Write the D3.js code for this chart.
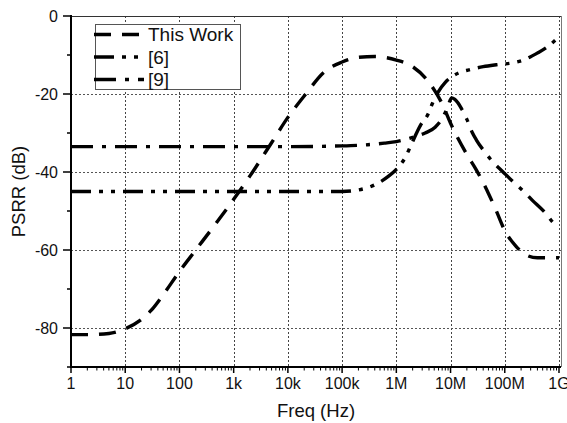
<!DOCTYPE html>
<html>
<head>
<meta charset="utf-8">
<script src="https://cdn.jsdelivr.net/npm/d3@7/dist/d3.min.js"></script>
<style>
  html, body { margin: 0; padding: 0; background: #fff; }
  svg { display: block; font-family: "Liberation Sans", Arial, sans-serif; }
</style>
</head>
<body>
<svg id="chart" width="567" height="423"></svg>
<script>
// ---- data ----
const seriesNames = ["This Work", "[6]", "[9]"];
const thisWorkFreq = [1, 2, 5, 10, 20, 30, 50, 100, 200, 500, 1e3, 2e3, 5e3, 1e4, 2e4, 5e4, 1e5, 2e5, 4e5, 1e6, 2e6, 4e6, 7e6, 1e7, 2e7, 3e7, 5e7, 7e7, 1e8, 1.6e8, 2.5e8, 4e8, 1e9];
const thisWorkDb   = [-81.7, -81.7, -81.4, -80.2, -77.8, -75.5, -71.5, -65.5, -60, -52.7, -47, -41, -32.5, -26, -20.5, -14, -11.8, -10.6, -10.4, -11.3, -13, -17, -22.5, -27.5, -35.5, -39.5, -45.5, -50, -55, -59, -61.3, -62, -62];
const ref6Freq = [1, 1e4, 1e5, 2e5, 4e5, 7e5, 1e6, 1.5e6, 1.8e6, 2.8e6, 3.9e6, 4.6e6, 5.9e6, 8e6, 1e7, 1.4e7, 2.2e7, 4e7, 7e7, 1.4e8, 2.2e8, 4e8, 6e8, 1e9];
const ref6Db   = [-45, -45, -45, -44.6, -43.3, -41.2, -39.3, -36, -33.6, -28, -25, -22.5, -19.5, -17, -15.8, -14.6, -13.8, -13, -12.5, -12, -11.3, -9.5, -8, -5.3];
const ref9Freq = [1, 1e4, 1e5, 3e5, 6e5, 1e6, 2e6, 3.4e6, 5.2e6, 7e6, 8.7e6, 1.05e7, 1.2e7, 1.6e7, 2e7, 2.5e7, 3e7, 4.3e7, 6e7, 9e7, 1.5e8, 2.2e8, 3.2e8, 5.6e8, 7.8e8, 1e9];
const ref9Db   = [-33.5, -33.5, -33.3, -33, -32.6, -32.2, -31.1, -30, -28.5, -26.3, -23.6, -21, -21.4, -23.8, -26.5, -29.8, -31.8, -34.9, -37.4, -39.8, -42.8, -44.9, -47.2, -50.5, -53, -54.3];
const xTickValues = [1, 10, 100, 1e3, 1e4, 1e5, 1e6, 1e7, 1e8, 1e9];
const xTickLabels = ["1", "10", "100", "1k", "10k", "100k", "1M", "10M", "100M", "1G"];
const yTickValues = [0, -20, -40, -60, -80];
const yMinorValues = [-10, -30, -50, -70, -90];
const xTitle = "Freq (Hz)";
const yTitle = "PSRR (dB)";

(function () {
// ---- layout ----
const pL = 71, pR = 561, pT = 16, pB = 367;
const svg = d3.select("#chart");
const x = d3.scaleLog().domain([1, Math.pow(10, 9.037)]).range([pL, pR]);
const y = d3.scaleLinear().domain([-90, 0]).range([pB, pT]);

// grid
const gGrid = svg.append("g");
gGrid.selectAll("line.vg").data(xTickValues.slice(1)).enter().append("line")
  .attr("x1", d => Math.round(x(d)) + 0.5).attr("x2", d => Math.round(x(d)) + 0.5)
  .attr("y1", pT).attr("y2", pB)
  .attr("stroke", "#444").attr("stroke-width", 1).attr("stroke-dasharray", "2,2");
gGrid.selectAll("line.hg").data(yTickValues.slice(1)).enter().append("line")
  .attr("y1", d => Math.round(y(d)) + 0.5).attr("y2", d => Math.round(y(d)) + 0.5)
  .attr("x1", pL).attr("x2", pR)
  .attr("stroke", "#555").attr("stroke-width", 1).attr("stroke-dasharray", "2,2");

// frame (top/right)
svg.append("line").attr("x1", pL).attr("x2", pR).attr("y1", pT + 0.5).attr("y2", pT + 0.5)
  .attr("stroke", "#333").attr("stroke-width", 1);
svg.append("line").attr("x1", pR + 0.5).attr("x2", pR + 0.5).attr("y1", pT).attr("y2", pB)
  .attr("stroke", "#777").attr("stroke-width", 1);

// curves
const line = d3.line().x(d => x(d[0])).y(d => y(d[1])).curve(d3.curveMonotoneX);
const zip = (a, b) => a.map((v, i) => [v, b[i]]);
const series = [
  { name: seriesNames[0], pts: zip(thisWorkFreq, thisWorkDb), dash: "17,11" },
  { name: seriesNames[1], pts: zip(ref6Freq, ref6Db), dash: "20,8,4,8,4,8" },
  { name: seriesNames[2], pts: zip(ref9Freq, ref9Db), dash: "22,9,4,9" }
];
svg.append("defs").append("clipPath").attr("id", "clip")
  .append("rect").attr("x", pL).attr("y", pT).attr("width", pR - pL).attr("height", pB - pT);
svg.append("g").attr("clip-path", "url(#clip)").selectAll("path").data(series).enter().append("path")
  .attr("d", d => line(d.pts))
  .attr("fill", "none").attr("stroke", "#000").attr("stroke-width", 3.4)
  .attr("stroke-dasharray", d => d.dash);

// x axis
const xMinor = [];
for (let dec = 0; dec < 9; dec++) for (let m = 2; m <= 9; m++) xMinor.push(m * Math.pow(10, dec));
const gx = svg.append("g");
gx.append("line").attr("x1", pL - 1).attr("x2", pR).attr("y1", pB).attr("y2", pB)
  .attr("stroke", "#000").attr("stroke-width", 2);
gx.selectAll("line.mi").data(xMinor).enter().append("line")
  .attr("x1", d => x(d)).attr("x2", d => x(d)).attr("y1", pB).attr("y2", pB + 3.5)
  .attr("stroke", "#000").attr("stroke-width", 1);
gx.selectAll("line.ma").data(xTickValues).enter().append("line")
  .attr("x1", d => x(d)).attr("x2", d => x(d)).attr("y1", pB).attr("y2", pB + 6)
  .attr("stroke", "#000").attr("stroke-width", 1.5);
gx.selectAll("text").data(xTickValues).enter().append("text")
  .attr("x", d => x(d)).attr("y", 389).attr("text-anchor", "middle")
  .attr("font-size", 16).attr("fill", "#111")
  .text((d, i) => xTickLabels[i]);

// y axis
const gy = svg.append("g");
gy.append("line").attr("x1", pL).attr("x2", pL).attr("y1", pT - 1).attr("y2", pB + 1)
  .attr("stroke", "#000").attr("stroke-width", 2);
gy.selectAll("line.ma").data(yTickValues).enter().append("line")
  .attr("x1", pL - 8).attr("x2", pL).attr("y1", d => y(d)).attr("y2", d => y(d))
  .attr("stroke", "#000").attr("stroke-width", 1.5);
gy.selectAll("line.mi").data(yMinorValues).enter().append("line")
  .attr("x1", pL - 4).attr("x2", pL).attr("y1", d => y(d)).attr("y2", d => y(d))
  .attr("stroke", "#000").attr("stroke-width", 1.5);
gy.selectAll("text").data(yTickValues).enter().append("text")
  .attr("x", 58).attr("y", d => y(d) + 5.5).attr("text-anchor", "end")
  .attr("font-size", 16).attr("fill", "#111")
  .text(d => d === 0 ? "0" : "-" + Math.abs(d));

// titles
svg.append("text").attr("x", (pL + pR) / 2).attr("y", 417).attr("text-anchor", "middle")
  .attr("font-size", 18.5).attr("fill", "#111").text(xTitle);
svg.append("text").attr("transform", `translate(24.5,${(pT + pB) / 2}) rotate(-90)`)
  .attr("text-anchor", "middle").attr("font-size", 18.5).attr("fill", "#111").text(yTitle);

// legend
const lg = svg.append("g");
lg.append("rect").attr("x", 95.5).attr("y", 24.5).attr("width", 145).attr("height", 65)
  .attr("fill", "#fff").attr("stroke", "#555").attr("stroke-width", 1);
const rowY = [34.5, 57, 79.5];
series.forEach((s, i) => {
  lg.append("line").attr("x1", 94).attr("x2", 144).attr("y1", rowY[i]).attr("y2", rowY[i])
    .attr("stroke", "#000").attr("stroke-width", 3.4).attr("stroke-dasharray", s.dash);
  lg.append("text").attr("x", 148).attr("y", rowY[i] + 6.5).attr("font-size", 19).attr("fill", "#111")
    .text(s.name);
});
})();
</script>
</body>
</html>
